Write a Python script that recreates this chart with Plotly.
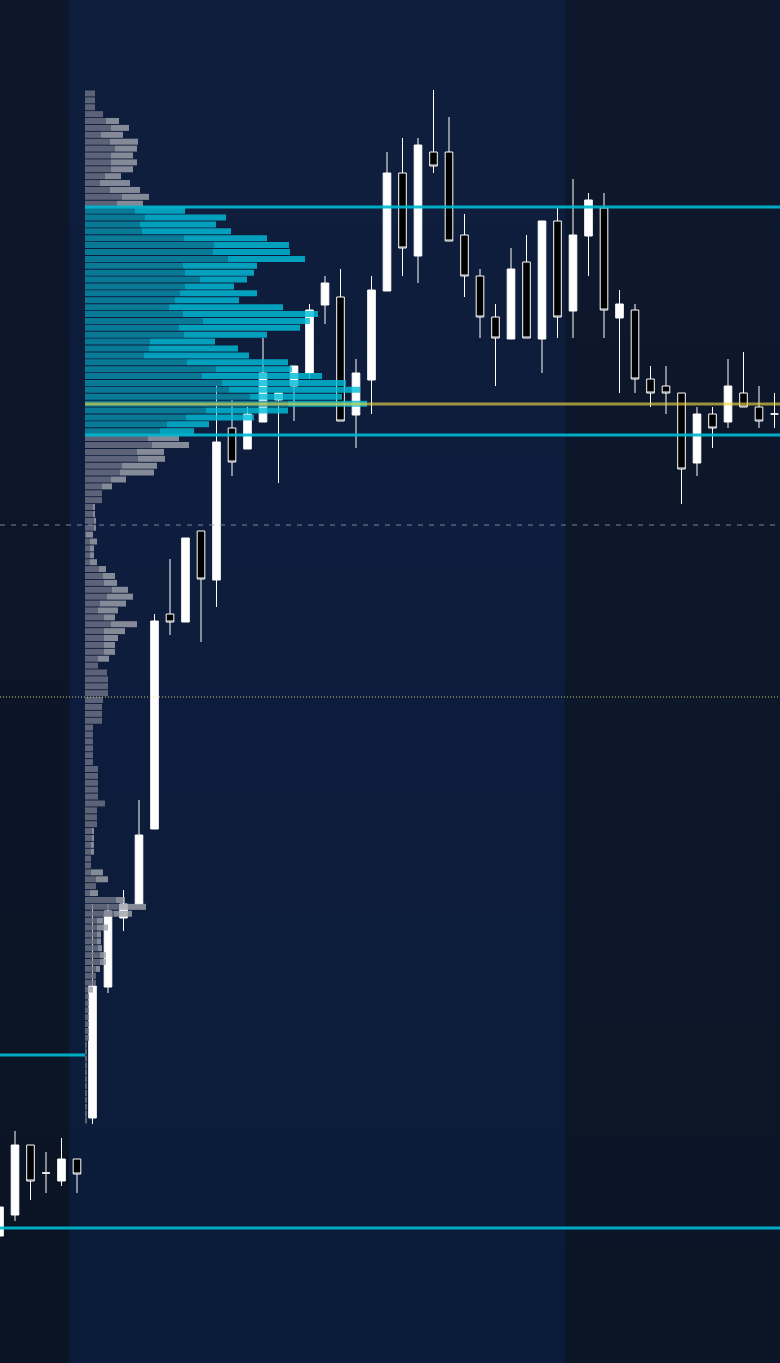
import plotly.graph_objects as go

# ---------------- Candles (price units) ----------------
opens  = [127, 148, 218, 190, 182, 204, 245, 376, 445, 459,
          534, 749, 741, 832, 783, 935, 914, 941, 963, 977,
          990, 1058, 1066, 948, 983, 1072, 1190, 1107, 1211, 1211,
          1128, 1087, 1046, 1024, 1101, 1024, 1142, 1052, 1127, 1155,
          1045, 1053, 984, 977, 970, 900, 949, 941, 970, 956, 949]
highs  = [156, 232, 218, 211, 225, 204, 459, 459, 473, 563,
          749, 804, 825, 832, 977, 963, 956, 1025, 970, 997,
          1059, 1087, 1094, 1004, 1087, 1211, 1225, 1225, 1273, 1246,
          1149, 1094, 1059, 1115, 1128, 1142, 1155, 1184, 1170, 1170,
          1073, 1059, 997, 997, 970, 956, 956, 1004, 1011, 977, 970]
lows   = [127, 142, 163, 170, 177, 170, 239, 370, 432, 459,
          534, 728, 741, 721, 756, 887, 914, 941, 880, 942,
          984, 1039, 942, 915, 949, 1072, 1087, 1080, 1190, 1122,
          1066, 1025, 977, 1024, 1025, 990, 1025, 1025, 1087, 1025,
          970, 970, 956, 949, 859, 887, 915, 935, 956, 935, 935]
closes = [156, 218, 182, 190, 204, 189, 377, 452, 459, 528,
          742, 741, 825, 784, 921, 901, 949, 990, 970, 997,
          1053, 1080, 942, 990, 1073, 1190, 1115, 1218, 1197, 1122,
          1087, 1046, 1025, 1094, 1025, 1142, 1046, 1128, 1163, 1053,
          1059, 984, 970, 970, 894, 949, 935, 977, 956, 942, 949]

# ---------------- Volume profile (rows listed top -> bottom) ----------------
vol_dark = [10, 10, 10, 18, 21, 26, 16, 25, 30, 26,
            26, 26, 20, 15, 25, 37, 32, 50, 60, 55,
            57, 99, 129, 128, 143, 98, 100, 115, 100, 95,
            90, 84, 98, 118, 94, 99, 65, 64, 59, 102,
            131, 117, 137, 144, 165, 203, 121, 101, 82, 75,
            63, 67, 52, 53, 37, 35, 26, 17, 17, 17,
            8, 8, 9, 9, 1, 5, 5, 5, 5, 14,
            18, 19, 27, 22, 15, 13, 19, 26, 19, 19,
            19, 19, 13, 13, 22, 23, 23, 23, 18, 17,
            17, 17, 8, 8, 8, 8, 8, 8, 13, 13,
            13, 13, 13, 20, 12, 12, 12, 7, 7, 6,
            6, 6, 6, 6, 11, 11, 5, 31, 34, 29,
            12, 12, 12, 12, 13, 15, 15, 11, 11, 11,
            3, 4, 4, 4, 4, 4, 4, 4, 2, 2,
            2, 2, 2, 2, 2, 2, 2, 2, 2, 2]
vol_light = [0, 0, 0, 0, 13, 18, 22, 28, 22, 22,
             26, 22, 16, 30, 30, 27, 26, 50, 81, 76,
             89, 83, 75, 77, 77, 74, 69, 47, 49, 77,
             64, 114, 135, 107, 121, 83, 65, 89, 105, 101,
             76, 120, 124, 131, 92, 79, 82, 68, 42, 34,
             31, 37, 27, 27, 35, 34, 15, 10, 0, 0,
             2, 2, 2, 2, 7, 7, 4, 4, 7, 7,
             12, 13, 16, 26, 26, 20, 11, 26, 21, 14,
             11, 11, 11, 0, 0, 0, 0, 0, 0, 0,
             0, 0, 0, 0, 0, 0, 0, 0, 0, 0,
             0, 0, 0, 0, 0, 0, 0, 2, 2, 3,
             3, 0, 0, 12, 12, 0, 8, 9, 27, 18,
             6, 11, 4, 4, 4, 6, 6, 4, 0, 0,
             5, 0, 0, 0, 0, 0, 0, 0, 0, 0,
             0, 0, 0, 0, 0, 0, 0, 0, 0, 0]

PROFILE_HIGH = 1273
PROFILE_LOW = 239

# ---------------- Levels ----------------
VAH = 1156
VAL = 928
POC = 959
LEVEL_BOTTOM = 135
LEVEL_PREV = 308
LEVEL_DASH = 838
LEVEL_DOT = 666

# sessions (candle index boundaries)
SESSION_BOUNDS = [-1, 4.5, 36.5, 51]

n_rows = len(vol_dark)
row_h = (PROFILE_HIGH - PROFILE_LOW) / n_rows
row_prices = [PROFILE_HIGH - (k + 0.5) * row_h for k in range(n_rows)]
in_va = [VAL <= p <= VAH for p in row_prices]
light_base = vol_dark

TEAL_D = 'rgba(7,143,170,0.82)'
TEAL_L = 'rgba(0,189,216,0.82)'
GRAY_D = 'rgba(110,115,133,0.82)'
GRAY_L = 'rgba(159,162,171,0.82)'

fig = go.Figure()
fig.add_trace(go.Candlestick(
    x=list(range(len(opens))), open=opens, high=highs, low=lows, close=closes,
    increasing=dict(line=dict(color='#ffffff', width=1), fillcolor='#ffffff'),
    decreasing=dict(line=dict(color='#ffffff', width=1), fillcolor='#000000'),
    whiskerwidth=0, hoverinfo='skip', showlegend=False))

fig.add_trace(go.Bar(
    y=row_prices, x=vol_dark, base=0, orientation='h', width=row_h * 0.87,
    marker=dict(color=[TEAL_D if v else GRAY_D for v in in_va], line=dict(width=0)),
    xaxis='x2', yaxis='y', hoverinfo='skip', showlegend=False))
fig.add_trace(go.Bar(
    y=row_prices, x=vol_light, base=light_base, orientation='h', width=row_h * 0.87,
    marker=dict(color=[TEAL_L if v else GRAY_L for v in in_va], line=dict(width=0)),
    xaxis='x2', yaxis='y', hoverinfo='skip', showlegend=False))

# background session shading with subtle vertical gradient
region_cols = [((13, 23, 43), (10, 20, 36)),
               ((16, 30, 62), (11, 27, 58)),
               ((14, 24, 45), (10, 22, 38))]
nb = 12
shapes = []
for r, (c_top, c_bot) in enumerate(region_cols):
    for b in range(nb):
        t = b / (nb - 1)
        col = tuple(round(c_top[i] + (c_bot[i] - c_top[i]) * t) for i in range(3))
        shapes.append(dict(type='rect', xref='x', yref='paper', layer='below',
                           x0=SESSION_BOUNDS[r], x1=SESSION_BOUNDS[r + 1],
                           y0=1 - (b + 1) / nb, y1=1 - b / nb,
                           fillcolor='rgb(%d,%d,%d)' % col, line=dict(width=0)))

X2_MIN, X2_MAX = -85, 695
CYAN = 'rgba(0,184,208,0.92)'
GOLD = 'rgba(230,212,70,0.66)'
for lvl in (VAH, VAL):
    shapes.append(dict(type='line', xref='x2', yref='y', x0=0, x1=X2_MAX, y0=lvl, y1=lvl,
                       line=dict(color=CYAN, width=3), layer='above'))
shapes.append(dict(type='line', xref='x2', yref='y', x0=0, x1=X2_MAX, y0=POC, y1=POC,
                   line=dict(color=GOLD, width=3), layer='above'))
shapes.append(dict(type='line', xref='paper', yref='y', x0=0, x1=1, y0=LEVEL_BOTTOM, y1=LEVEL_BOTTOM,
                   line=dict(color=CYAN, width=3), layer='above'))
shapes.append(dict(type='line', xref='x2', yref='y', x0=X2_MIN, x1=0, y0=LEVEL_PREV, y1=LEVEL_PREV,
                   line=dict(color=CYAN, width=3), layer='above'))
shapes.append(dict(type='line', xref='paper', yref='y', x0=0, x1=0.995, y0=LEVEL_DASH, y1=LEVEL_DASH,
                   line=dict(color='rgba(140,150,172,0.85)', width=1, dash='5px,6px'), layer='above'))
shapes.append(dict(type='line', xref='paper', yref='y', x0=0, x1=1, y0=LEVEL_DOT, y1=LEVEL_DOT,
                   line=dict(color='rgba(230,226,130,0.9)', width=1, dash='1px,2px'), layer='above'))

fig.update_layout(
    width=780, height=1363, margin=dict(l=0, r=0, t=0, b=0, pad=0),
    paper_bgcolor='#0b1528', plot_bgcolor='rgba(0,0,0,0)',
    barmode='overlay', showlegend=False, shapes=shapes,
    xaxis=dict(range=[0.0323, 50.355], visible=False, rangeslider=dict(visible=False), fixedrange=True),
    xaxis2=dict(range=[X2_MIN, X2_MAX], overlaying='x', anchor='y', visible=False, fixedrange=True),
    yaxis=dict(range=[0, 1363], visible=False, fixedrange=True),
)

fig.write_html("out.html", config={'displayModeBar': False},
               post_script="document.body.style.margin='0';document.body.style.overflow='hidden';")
